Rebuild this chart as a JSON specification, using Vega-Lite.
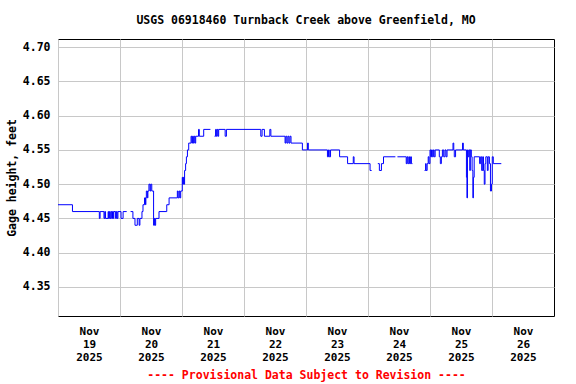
{
  "$schema": "https://vega.github.io/schema/vega-lite/v6.json",
  "width": 496,
  "height": 277,
  "autosize": {"type": "none"},
  "padding": {"left": 58, "top": 39, "right": 22, "bottom": 68},
  "background": "white",
  "config": {
    "view": {"stroke": "black", "strokeWidth": 1},
    "font": "DejaVu Sans Mono"
  },
  "title": {
    "text": "USGS 06918460 Turnback Creek above Greenfield, MO",
    "font": "DejaVu Sans Mono",
    "fontSize": 11.5,
    "fontWeight": "bold",
    "color": "black",
    "anchor": "middle",
    "baseline": "alphabetic",
    "offset": 4
  },
  "data": {
    "values": [
      {"t": "2025-11-19T00:00", "v": 4.47},
      {"t": "2025-11-19T05:36", "v": 4.46},
      {"t": "2025-11-19T16:00", "v": 4.45},
      {"t": "2025-11-19T16:18", "v": 4.46},
      {"t": "2025-11-19T17:48", "v": 4.45},
      {"t": "2025-11-19T18:06", "v": 4.46},
      {"t": "2025-11-19T18:24", "v": 4.45},
      {"t": "2025-11-19T19:24", "v": 4.46},
      {"t": "2025-11-19T19:36", "v": 4.45},
      {"t": "2025-11-19T19:54", "v": 4.46},
      {"t": "2025-11-19T20:12", "v": 4.45},
      {"t": "2025-11-19T20:30", "v": 4.46},
      {"t": "2025-11-19T20:48", "v": 4.45},
      {"t": "2025-11-19T21:06", "v": 4.46},
      {"t": "2025-11-19T21:24", "v": 4.45},
      {"t": "2025-11-19T21:36", "v": 4.46},
      {"t": "2025-11-19T22:18", "v": 4.45},
      {"t": "2025-11-19T22:36", "v": 4.46},
      {"t": "2025-11-19T22:54", "v": 4.45},
      {"t": "2025-11-19T23:12", "v": 4.46},
      {"t": "2025-11-20T00:24", "v": 4.45},
      {"t": "2025-11-20T01:12", "v": 4.46},
      {"t": "2025-11-20T02:36", "v": 4.46},
      {"t": "2025-11-20T02:42", "v": null},
      {"t": "2025-11-20T04:06", "v": 4.46},
      {"t": "2025-11-20T05:00", "v": 4.45},
      {"t": "2025-11-20T05:48", "v": 4.44},
      {"t": "2025-11-20T06:42", "v": 4.45},
      {"t": "2025-11-20T07:24", "v": 4.44},
      {"t": "2025-11-20T07:42", "v": 4.45},
      {"t": "2025-11-20T08:30", "v": 4.46},
      {"t": "2025-11-20T08:54", "v": 4.47},
      {"t": "2025-11-20T09:30", "v": 4.48},
      {"t": "2025-11-20T09:54", "v": 4.47},
      {"t": "2025-11-20T10:00", "v": 4.48},
      {"t": "2025-11-20T10:12", "v": 4.49},
      {"t": "2025-11-20T10:36", "v": 4.48},
      {"t": "2025-11-20T10:48", "v": 4.49},
      {"t": "2025-11-20T11:12", "v": 4.50},
      {"t": "2025-11-20T11:36", "v": 4.49},
      {"t": "2025-11-20T11:54", "v": 4.50},
      {"t": "2025-11-20T12:18", "v": 4.49},
      {"t": "2025-11-20T13:00", "v": 4.44},
      {"t": "2025-11-20T13:18", "v": 4.45},
      {"t": "2025-11-20T13:30", "v": 4.44},
      {"t": "2025-11-20T13:48", "v": 4.45},
      {"t": "2025-11-20T15:06", "v": 4.46},
      {"t": "2025-11-20T18:06", "v": 4.47},
      {"t": "2025-11-20T19:00", "v": 4.48},
      {"t": "2025-11-20T22:12", "v": 4.49},
      {"t": "2025-11-20T22:30", "v": 4.48},
      {"t": "2025-11-20T22:54", "v": 4.49},
      {"t": "2025-11-20T23:12", "v": 4.48},
      {"t": "2025-11-20T23:30", "v": 4.49},
      {"t": "2025-11-21T00:06", "v": 4.51},
      {"t": "2025-11-21T00:18", "v": 4.50},
      {"t": "2025-11-21T00:30", "v": 4.51},
      {"t": "2025-11-21T00:42", "v": 4.50},
      {"t": "2025-11-21T01:00", "v": 4.52},
      {"t": "2025-11-21T01:24", "v": 4.53},
      {"t": "2025-11-21T01:42", "v": 4.54},
      {"t": "2025-11-21T02:06", "v": 4.55},
      {"t": "2025-11-21T02:36", "v": 4.56},
      {"t": "2025-11-21T03:30", "v": 4.57},
      {"t": "2025-11-21T03:48", "v": 4.56},
      {"t": "2025-11-21T04:06", "v": 4.57},
      {"t": "2025-11-21T04:24", "v": 4.56},
      {"t": "2025-11-21T04:42", "v": 4.57},
      {"t": "2025-11-21T05:00", "v": 4.56},
      {"t": "2025-11-21T05:18", "v": 4.57},
      {"t": "2025-11-21T06:24", "v": 4.58},
      {"t": "2025-11-21T06:42", "v": 4.57},
      {"t": "2025-11-21T08:24", "v": 4.58},
      {"t": "2025-11-21T11:00", "v": 4.58},
      {"t": "2025-11-21T11:06", "v": null},
      {"t": "2025-11-21T12:36", "v": 4.57},
      {"t": "2025-11-21T13:00", "v": 4.58},
      {"t": "2025-11-21T13:18", "v": 4.57},
      {"t": "2025-11-21T13:36", "v": 4.58},
      {"t": "2025-11-21T13:54", "v": 4.57},
      {"t": "2025-11-21T14:12", "v": 4.58},
      {"t": "2025-11-21T16:42", "v": 4.57},
      {"t": "2025-11-21T17:12", "v": 4.58},
      {"t": "2025-11-22T06:30", "v": 4.57},
      {"t": "2025-11-22T07:00", "v": 4.58},
      {"t": "2025-11-22T07:54", "v": 4.57},
      {"t": "2025-11-22T10:00", "v": 4.58},
      {"t": "2025-11-22T10:24", "v": 4.57},
      {"t": "2025-11-22T15:54", "v": 4.56},
      {"t": "2025-11-22T16:12", "v": 4.57},
      {"t": "2025-11-22T16:36", "v": 4.56},
      {"t": "2025-11-22T17:00", "v": 4.57},
      {"t": "2025-11-22T17:24", "v": 4.56},
      {"t": "2025-11-22T17:48", "v": 4.57},
      {"t": "2025-11-22T18:12", "v": 4.56},
      {"t": "2025-11-22T22:36", "v": 4.55},
      {"t": "2025-11-23T00:36", "v": 4.56},
      {"t": "2025-11-23T00:54", "v": 4.55},
      {"t": "2025-11-23T08:18", "v": 4.54},
      {"t": "2025-11-23T08:42", "v": 4.55},
      {"t": "2025-11-23T09:00", "v": 4.54},
      {"t": "2025-11-23T09:30", "v": 4.55},
      {"t": "2025-11-23T13:00", "v": 4.54},
      {"t": "2025-11-23T16:06", "v": 4.53},
      {"t": "2025-11-23T18:18", "v": 4.54},
      {"t": "2025-11-23T18:36", "v": 4.53},
      {"t": "2025-11-24T00:48", "v": 4.52},
      {"t": "2025-11-24T01:24", "v": 4.52},
      {"t": "2025-11-24T01:30", "v": null},
      {"t": "2025-11-24T03:48", "v": 4.53},
      {"t": "2025-11-24T04:24", "v": 4.52},
      {"t": "2025-11-24T05:12", "v": 4.53},
      {"t": "2025-11-24T06:00", "v": 4.54},
      {"t": "2025-11-24T10:36", "v": 4.54},
      {"t": "2025-11-24T10:42", "v": null},
      {"t": "2025-11-24T11:24", "v": 4.54},
      {"t": "2025-11-24T14:48", "v": 4.53},
      {"t": "2025-11-24T15:06", "v": 4.54},
      {"t": "2025-11-24T15:24", "v": 4.53},
      {"t": "2025-11-24T15:48", "v": 4.54},
      {"t": "2025-11-24T16:06", "v": 4.53},
      {"t": "2025-11-24T16:30", "v": 4.54},
      {"t": "2025-11-24T16:48", "v": 4.53},
      {"t": "2025-11-24T17:12", "v": 4.53},
      {"t": "2025-11-24T17:18", "v": null},
      {"t": "2025-11-24T21:54", "v": 4.52},
      {"t": "2025-11-24T22:18", "v": 4.53},
      {"t": "2025-11-24T22:30", "v": 4.52},
      {"t": "2025-11-24T22:54", "v": 4.53},
      {"t": "2025-11-24T23:18", "v": 4.54},
      {"t": "2025-11-24T23:36", "v": 4.53},
      {"t": "2025-11-25T00:00", "v": 4.55},
      {"t": "2025-11-25T00:18", "v": 4.54},
      {"t": "2025-11-25T00:36", "v": 4.55},
      {"t": "2025-11-25T00:54", "v": 4.54},
      {"t": "2025-11-25T01:18", "v": 4.55},
      {"t": "2025-11-25T01:36", "v": 4.54},
      {"t": "2025-11-25T02:00", "v": 4.55},
      {"t": "2025-11-25T03:36", "v": 4.54},
      {"t": "2025-11-25T04:00", "v": 4.53},
      {"t": "2025-11-25T04:24", "v": 4.54},
      {"t": "2025-11-25T04:48", "v": 4.55},
      {"t": "2025-11-25T05:18", "v": 4.54},
      {"t": "2025-11-25T05:48", "v": 4.55},
      {"t": "2025-11-25T06:12", "v": 4.54},
      {"t": "2025-11-25T06:36", "v": 4.55},
      {"t": "2025-11-25T08:54", "v": 4.56},
      {"t": "2025-11-25T09:12", "v": 4.55},
      {"t": "2025-11-25T09:24", "v": 4.54},
      {"t": "2025-11-25T09:54", "v": 4.55},
      {"t": "2025-11-25T12:36", "v": 4.56},
      {"t": "2025-11-25T12:54", "v": 4.55},
      {"t": "2025-11-25T14:06", "v": 4.51},
      {"t": "2025-11-25T14:18", "v": 4.48},
      {"t": "2025-11-25T14:30", "v": 4.55},
      {"t": "2025-11-25T14:48", "v": 4.54},
      {"t": "2025-11-25T15:06", "v": 4.55},
      {"t": "2025-11-25T15:24", "v": 4.52},
      {"t": "2025-11-25T15:36", "v": 4.55},
      {"t": "2025-11-25T16:00", "v": 4.54},
      {"t": "2025-11-25T16:18", "v": 4.52},
      {"t": "2025-11-25T16:36", "v": 4.48},
      {"t": "2025-11-25T16:48", "v": 4.51},
      {"t": "2025-11-25T17:06", "v": 4.54},
      {"t": "2025-11-25T19:12", "v": 4.53},
      {"t": "2025-11-25T19:36", "v": 4.54},
      {"t": "2025-11-25T20:00", "v": 4.52},
      {"t": "2025-11-25T20:24", "v": 4.54},
      {"t": "2025-11-25T20:42", "v": 4.52},
      {"t": "2025-11-25T21:00", "v": 4.50},
      {"t": "2025-11-25T21:18", "v": 4.53},
      {"t": "2025-11-25T21:36", "v": 4.54},
      {"t": "2025-11-25T22:12", "v": 4.52},
      {"t": "2025-11-25T22:30", "v": 4.54},
      {"t": "2025-11-25T23:00", "v": 4.53},
      {"t": "2025-11-25T23:24", "v": 4.49},
      {"t": "2025-11-25T23:48", "v": 4.50},
      {"t": "2025-11-26T00:06", "v": 4.54},
      {"t": "2025-11-26T00:30", "v": 4.53},
      {"t": "2025-11-26T03:36", "v": 4.53}
    ]
  },
  "mark": {
    "type": "line",
    "color": "#0000ff",
    "strokeWidth": 1,
    "interpolate": "step-after",
    "invalid": "break-paths-show-domains"
  },
  "encoding": {
    "x": {
      "field": "t",
      "type": "temporal",
      "scale": {
        "domain": [
          {"year": 2025, "month": 11, "date": 19},
          {"year": 2025, "month": 11, "date": 27}
        ],
        "nice": false
      },
      "axis": {
        "values": [
          {"year": 2025, "month": 11, "date": 19},
          {"year": 2025, "month": 11, "date": 20},
          {"year": 2025, "month": 11, "date": 21},
          {"year": 2025, "month": 11, "date": 22},
          {"year": 2025, "month": 11, "date": 23},
          {"year": 2025, "month": 11, "date": 24},
          {"year": 2025, "month": 11, "date": 25},
          {"year": 2025, "month": 11, "date": 26}
        ],
        "labelExpr": "[timeFormat(datum.value, '%b'), timeFormat(datum.value, '%d'), timeFormat(datum.value, '%Y')]",
        "labelOffset": 31,
        "labelAlign": "center",
        "labelBaseline": "top",
        "labelLineHeight": 13,
        "labelFont": "DejaVu Sans Mono",
        "labelFontSize": 11,
        "labelFontWeight": "bold",
        "labelColor": "black",
        "labelPadding": 9,
        "labelBound": false,
        "labelFlush": false,
        "labelOverlap": false,
        "ticks": false,
        "domain": false,
        "grid": true,
        "gridColor": "#c8c8c8",
        "gridWidth": 1,
        "gridOpacity": 1,
        "title": "---- Provisional Data Subject to Revision ----",
        "titleColor": "#ff0000",
        "titleFont": "DejaVu Sans Mono",
        "titleFontSize": 11.5,
        "titleFontWeight": "bold",
        "titlePadding": 7
      }
    },
    "y": {
      "field": "v",
      "type": "quantitative",
      "scale": {"domain": [4.3075, 4.712], "nice": false, "zero": false},
      "axis": {
        "values": [4.35, 4.40, 4.45, 4.50, 4.55, 4.60, 4.65, 4.70],
        "format": ".2f",
        "labelFont": "DejaVu Sans Mono",
        "labelFontSize": 11.5,
        "labelFontWeight": "bold",
        "labelColor": "black",
        "labelPadding": 8,
        "ticks": false,
        "domain": false,
        "grid": true,
        "gridColor": "#c8c8c8",
        "gridWidth": 1,
        "gridOpacity": 1,
        "title": "Gage height, feet",
        "titleFont": "DejaVu Sans Mono",
        "titleFontSize": 11.5,
        "titleFontWeight": "bold",
        "titleColor": "black",
        "titlePadding": 5
      }
    }
  }
}
